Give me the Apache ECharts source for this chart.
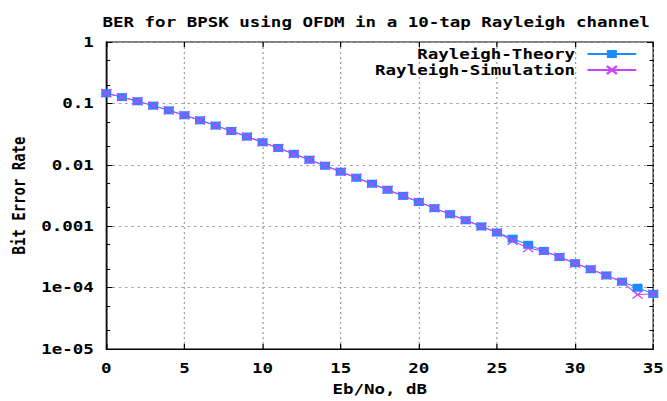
<!DOCTYPE html>
<html>
<head>
<meta charset="utf-8">
<script src="https://cdn.jsdelivr.net/npm/echarts@6/dist/echarts.min.js"></script>
<style>
  html, body { margin: 0; padding: 0; background: #fff; }
  /* the reference picture is stretched sideways, so draw narrow and stretch */
  #chart { width: 534px; height: 401px; transform: scaleX(1.25); transform-origin: 0 0; }
</style>
</head>
<body>
<div id="chart"></div>
<script>
// Eb/No in dB
const ebno = [0, 1, 2, 3, 4, 5, 6, 7, 8, 9, 10, 11, 12, 13, 14, 15, 16, 17,
  18, 19, 20, 21, 22, 23, 24, 25, 26, 27, 28, 29, 30, 31, 32, 33, 34, 35]

// BER
const theoryBer = [0.1464, 0.1267, 0.1085, 0.0919, 0.0771, 0.0642, 0.0530, 0.0435,
  0.0355, 0.0288, 0.0233, 0.0188, 0.0151, 0.0121, 0.00967, 0.00772, 0.00616,
  0.00492, 0.00392, 0.00312, 0.00248, 0.00197, 0.00157, 0.00125, 0.000992,
  0.000789, 0.000627, 0.000498, 0.000396, 0.000315, 0.000250, 0.000199,
  0.000158, 0.000125, 0.0000995, 0.0000791]
const simBer = [0.1465, 0.1266, 0.1084, 0.0920, 0.0770, 0.0641, 0.0531, 0.0434,
  0.0355, 0.0289, 0.0232, 0.0188, 0.0150, 0.0121, 0.00968, 0.00770, 0.00617,
  0.00490, 0.00393, 0.00311, 0.00249, 0.00196, 0.00156, 0.00126, 0.000985,
  0.000795, 0.000580, 0.000440, 0.000392, 0.000318, 0.000247, 0.000201,
  0.000157, 0.000124, 0.0000770, 0.0000790]

// log axis ticks
const majorTicks = [1e-5, 1e-4, 1e-3, 1e-2, 1e-1, 1]
const minorTicks = [2e-5, 5e-5, 2e-4, 5e-4, 2e-3, 5e-3, 2e-2, 5e-2, 0.2, 0.5]

const font = 'DejaVu Sans Mono'
const txt = { fontFamily: font, fontWeight: 'bold', fontSize: 14, color: '#000' }

const fmtY = (v) => {
  const n = parseFloat(Number(v).toPrecision(6))
  if (n >= 0.001) return String(n)
  return n.toExponential(0).replace(/e-(\d)$/, 'e-0$1')
}

const chart = echarts.init(document.getElementById('chart'), null, { renderer: 'svg' })

const tickAxis = (position, values, len) => ({
  type: 'log', min: 1e-5, max: 1, position,
  axisLine: { show: false },
  axisLabel: { show: false },
  splitLine: { show: false },
  axisTick: { show: true, inside: true, length: len, customValues: values,
    lineStyle: { color: '#000', width: 1 } }
})

const legendItem = (name, top) => ({
  data: [name],
  right: 19, top, align: 'right',
  itemWidth: 39, itemHeight: 10,
  textStyle: { ...txt, padding: [0, 5, 0, 0] }
})

const option = {
  animation: false,
  title: {
    text: 'BER for BPSK using OFDM in a 10-tap Rayleigh channel',
    left: 77,
    top: 10,
    textStyle: txt
  },
  legend: [
    legendItem('Rayleigh-Theory', 42),
    legendItem('Rayleigh-Simulation', 58)
  ],
  grid: {
    left: 81.6, right: 9.2, top: 42, bottom: 48,
    show: true, borderColor: '#000', borderWidth: 1, backgroundColor: 'transparent'
  },
  xAxis: [
    {
      type: 'value', min: 0, max: 35, interval: 5,
      name: 'Eb/No, dB', nameLocation: 'middle', nameGap: 33,
      nameTextStyle: txt,
      axisLine: { show: true, lineStyle: { color: '#000' } },
      axisTick: { inside: true, length: 5, lineStyle: { color: '#000' } },
      axisLabel: { ...txt, margin: 12 },
      splitLine: { show: true, lineStyle: { color: '#a0a0a0', type: [2, 3], width: 1 } }
    },
    {
      type: 'value', min: 0, max: 35, interval: 5, position: 'top',
      axisLine: { show: false },
      axisTick: { inside: true, length: 5, lineStyle: { color: '#000' } },
      axisLabel: { show: false },
      splitLine: { show: false }
    }
  ],
  yAxis: [
    {
      type: 'log', min: 1e-5, max: 1, logBase: 10,
      name: 'Bit Error Rate', nameLocation: 'middle', nameGap: 60,
      nameTextStyle: txt,
      axisLine: { show: true, lineStyle: { color: '#000' } },
      axisTick: { show: true, inside: true, length: 5, customValues: majorTicks,
        lineStyle: { color: '#000' } },
      axisLabel: { ...txt, margin: 10, customValues: majorTicks, formatter: fmtY },
      splitLine: { show: true, lineStyle: { color: '#a0a0a0', type: [2, 3], width: 1 } }
    },
    tickAxis('left', minorTicks, 3),
    tickAxis('right', majorTicks, 5),
    tickAxis('right', minorTicks, 3)
  ],
  series: [
    {
      name: 'Rayleigh-Theory',
      type: 'line',
      data: ebno.map((x, i) => [x, theoryBer[i]]),
      symbol: 'rect',
      symbolSize: 8,
      color: '#1a8cff',
      lineStyle: { color: '#1a8cff', width: 1 },
      itemStyle: { color: '#1a8cff' }
    },
    {
      name: 'Rayleigh-Simulation',
      type: 'line',
      data: ebno.map((x, i) => [x, simBer[i]]),
      symbol: 'path://M0 0L10 10M10 0L0 10',
      symbolSize: 8,
      color: '#cc40ff',
      lineStyle: { color: '#cc40ff', width: 1 },
      itemStyle: { color: '#cc40ff', borderColor: '#cc40ff', borderWidth: 1.2 }
    }
  ]
}

chart.setOption(option)
</script>
</body>
</html>
